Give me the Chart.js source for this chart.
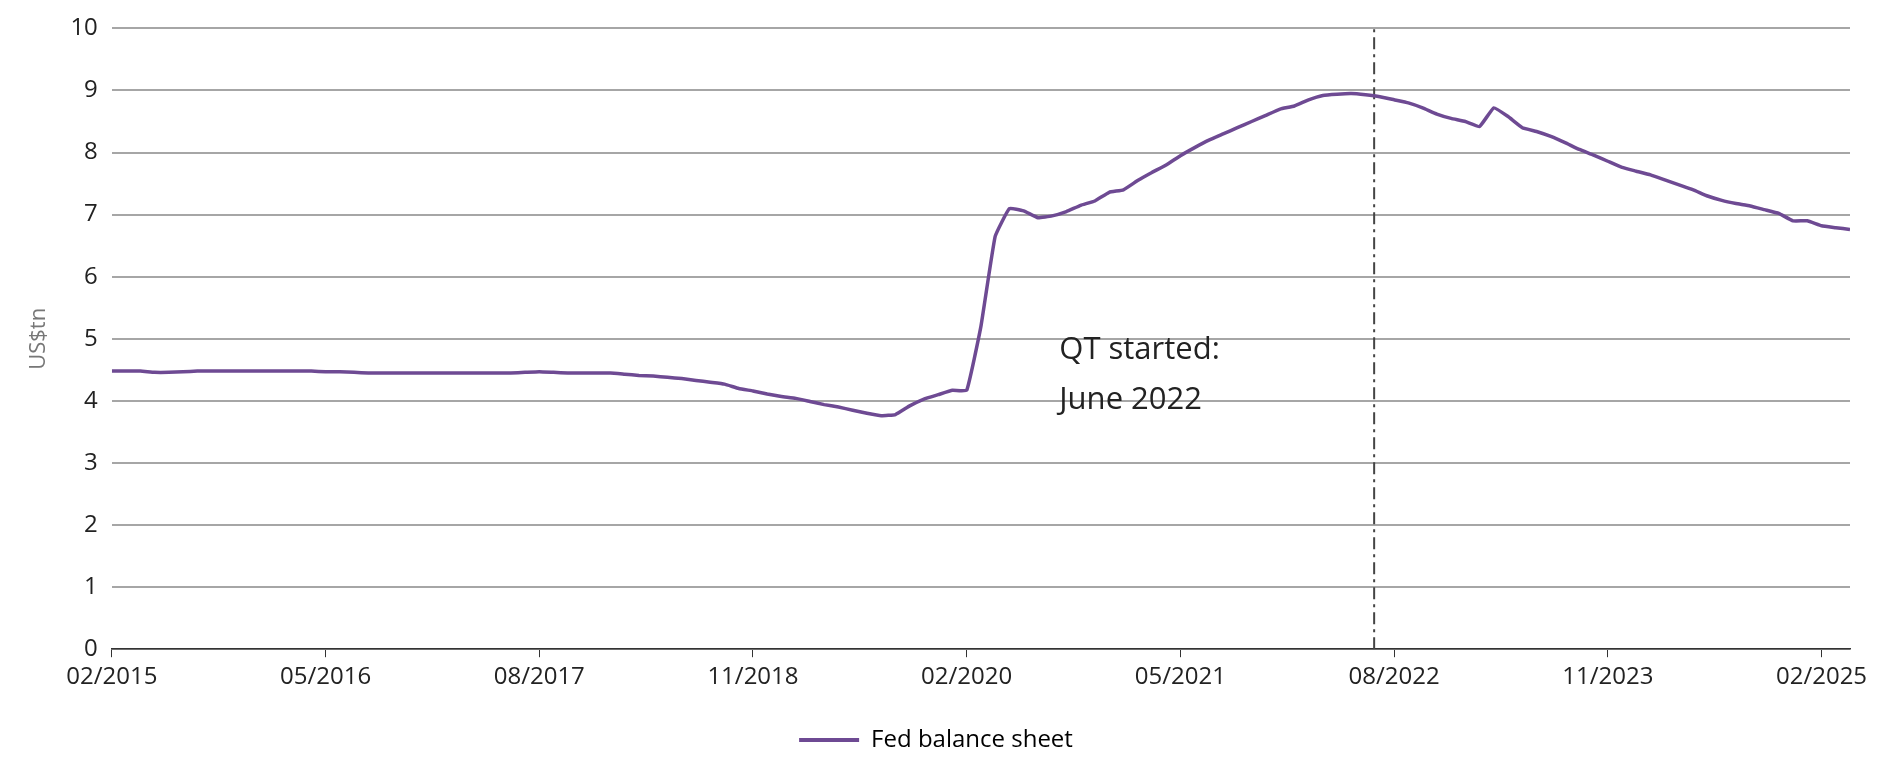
<!DOCTYPE html>
<html><head><meta charset="utf-8">
<script src="https://cdn.jsdelivr.net/npm/chart.js@4/dist/chart.umd.min.js"></script>
<style>html,body{margin:0;padding:0;background:#fff}#w{width:1890px;height:770px}</style>
</head><body><div id="w"><canvas id="c"></canvas></div>
<script>
const startYear = 2015, startMonth = 2;
const fedBalance = [
4.48,4.48,4.48,4.46,4.46,4.47,4.48,4.48,4.48,4.48,4.48,
4.48,4.48,4.48,4.48,4.47,4.47,4.46,4.45,4.45,4.45,4.45,4.45,
4.45,4.45,4.45,4.45,4.45,4.45,4.46,4.47,4.46,4.45,4.45,4.45,
4.45,4.43,4.41,4.40,4.38,4.36,4.33,4.30,4.27,4.20,4.16,4.11,
4.07,4.04,3.99,3.94,3.90,3.85,3.80,3.76,3.78,3.92,4.03,4.10,
4.17,4.17,5.20,6.65,7.10,7.06,6.95,6.98,7.05,7.15,7.22,7.36,
7.40,7.55,7.68,7.80,7.95,8.08,8.20,8.30,8.40,8.50,8.60,8.70,
8.75,8.85,8.92,8.94,8.95,8.93,8.90,8.85,8.80,8.72,8.62,8.55,
8.50,8.42,8.72,8.58,8.40,8.34,8.26,8.16,8.05,7.96,7.86,7.76,
7.70,7.64,7.56,7.48,7.40,7.30,7.23,7.18,7.14,7.08,7.02,6.90,
6.90,6.82,6.79,6.76
];
const qtStart = 88.6;
const yTicks = [0,1,2,3,4,5,6,7,8,9,10];
const xTicks = [0,15,30,45,60,75,90,105,120];
const annotationLines = ["QT started:", "June 2022"];
const seriesName = "Fed balance sheet";

const pts = fedBalance.map((v,i)=>({x:i,y:v}));
const fmt = i => { const m = (startMonth-1+i)%12+1, y = startYear+Math.floor((startMonth-1+i)/12); return String(m).padStart(2,'0')+'/'+y; };

const textPlugin = {id:'txt', afterDatasetsDraw(ch){
  const c=ch.ctx, xs=ch.scales.x, ys=ch.scales.y;
  c.save(); c.fillStyle='#222'; c.font='31px "Open Sans"'; c.textBaseline='alphabetic';
  annotationLines.forEach((t,k)=>c.fillText(t, xs.getPixelForValue(66.5), ys.getPixelForValue(4.68)+k*50));
  c.restore();
}};

new Chart(document.getElementById('c'),{
  type:'line',
  data:{datasets:[
    {label:seriesName,data:pts,borderColor:'#6e4a93',borderWidth:3.5,pointRadius:0,tension:0.1},
    {label:'qt',data:[{x:qtStart,y:0},{x:qtStart,y:10}],borderColor:'#444',borderWidth:2,borderDash:[12,5,3,5],pointRadius:0}
  ]},
  options:{
    responsive:true,maintainAspectRatio:false,animation:false,
    layout:{padding:{left:22,right:40,top:24,bottom:8}},
    plugins:{
      legend:{position:'bottom',labels:{boxWidth:60,boxHeight:0,font:{family:'Open Sans',size:24},color:'#222',padding:30,
        generateLabels:ch=>[{text:seriesName,strokeStyle:'#6e4a93',fillStyle:'#6e4a93',lineWidth:4,datasetIndex:0}]}},
      tooltip:{enabled:false}
    },
    scales:{
      x:{type:'linear',min:0,max:122,afterBuildTicks:s=>{s.ticks=xTicks.map(v=>({value:v}));},
        grid:{display:true,drawOnChartArea:false,drawTicks:true,tickLength:8,color:'#333'},border:{color:'#333',width:1.5},
        ticks:{autoSkip:false,callback:v=>fmt(v),font:{family:'Open Sans',size:24},color:'#222',maxRotation:0,padding:6}},
      y:{min:0,max:10,afterBuildTicks:s=>{s.ticks=yTicks.map(v=>({value:v}));},
        grid:{color:'#a6a6a6',lineWidth:2,drawTicks:false},border:{display:false},
        title:{display:true,text:'US$tn',font:{family:'Open Sans',size:22},color:'#777'},
        ticks:{font:{family:'Open Sans',size:24},color:'#222',padding:14}}
    }
  },
  plugins:[textPlugin]
});
</script></body></html>
